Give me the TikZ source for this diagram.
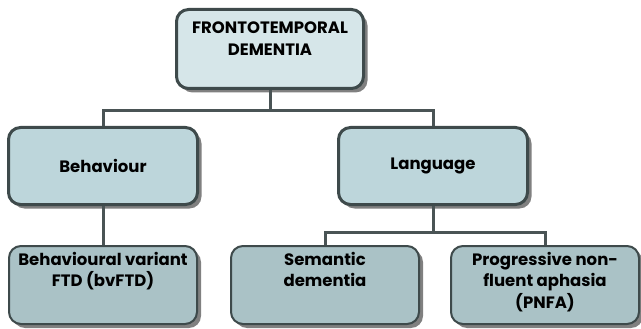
\documentclass[tikz,border=0pt]{standalone}
\usepackage{fontspec}
\setmainfont{Poppins}
\usetikzlibrary{positioning,shadows}

\definecolor{topfill}{HTML}{D6E6E9}
\definecolor{midfill}{HTML}{BDD6DB}
\definecolor{lowfill}{HTML}{AAC2C6}
\definecolor{boxline}{HTML}{3E4A4B}
\definecolor{linkgray}{HTML}{4A5455}
\definecolor{shadowgray}{HTML}{808080}

\begin{document}
\begin{tikzpicture}[x=1pt,y=1pt,
    box/.style={draw=boxline, line width=3pt, rounded corners=12pt,
      drop shadow={shadow xshift=4pt, shadow yshift=-4pt, fill=shadowgray, opacity=1}},
    topbox/.style={box, fill=topfill, minimum width=187pt, minimum height=79pt},
    midbox/.style={box, fill=midfill, minimum width=189pt, minimum height=77pt},
    lowbox/.style={box, fill=lowfill, line width=2pt, minimum width=188pt, minimum height=78pt},
    boxtext/.style={font=\bfseries\fontsize{16.5}{21.5}\selectfont, align=center, inner sep=0pt},
    link/.style={draw=linkgray, line width=3pt}]
  \useasboundingbox (0,0) rectangle (641,-329);

  % boxes
  \node[topbox] (ftd) at (270,-49) {};
  \node[midbox] (beh) at (103,-166) {};
  \node[midbox] (lang) at (433,-166) {};
  \node[lowbox] (bvftd) at (103,-285) {};
  \node[lowbox] (sem) at (325,-285) {};
  \node[lowbox] (pnfa) at (545,-285) {};

  % texts
  \node[boxtext, below=14pt of ftd.north] (ftdtxt) {FRONTOTEMPORAL\\DEMENTIA};
  \node[boxtext] (behtxt) at (beh) {Behaviour};
  \node[boxtext] (langtxt) at (lang) {Language};
  \node[boxtext, below=7pt of bvftd.north] (bvftdtxt) {Behavioural variant\\FTD (bvFTD)};
  \node[boxtext, below=7pt of sem.north] (semtxt) {Semantic\\dementia};
  \node[boxtext, below=7pt of pnfa.north] (pnfatxt) {Progressive non-\\fluent aphasia\\(PNFA)};

  % links
  \draw[link] (ftd.south) -- ++(0,-21) -| (beh.north);
  \draw[link] (ftd.south) -- ++(0,-21) -| (lang.north);
  \draw[link] (beh.south) -- (bvftd.north);
  \draw[link] (lang.south) -- ++(0,-26) -| (sem.north);
  \draw[link] (lang.south) -- ++(0,-26) -| (pnfa.north);
\end{tikzpicture}
\end{document}
